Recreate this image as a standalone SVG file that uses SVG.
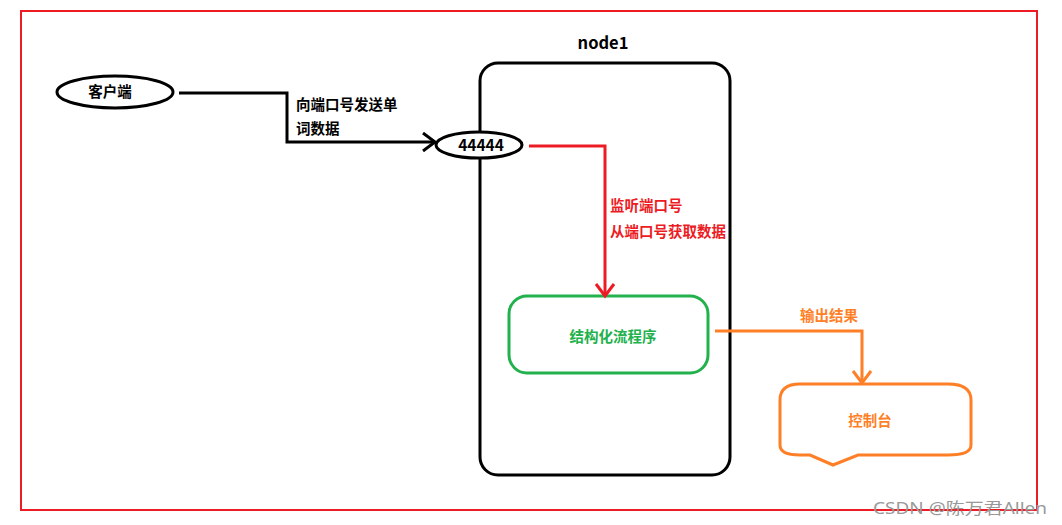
<svg xmlns="http://www.w3.org/2000/svg" width="1062" height="525" viewBox="0 0 1062 525">
<defs>
<style>
.t{font-family:"Microsoft YaHei","Noto Sans CJK SC","Noto Sans",sans-serif;font-weight:bold;font-size:14.5px}
.ln{fill:none;stroke-width:3}
</style>
<marker id="ab" markerUnits="userSpaceOnUse" markerWidth="20" markerHeight="20" refX="14" refY="10" orient="auto"><path d="M2,1 L14,10 L2,19" fill="none" stroke="#000" stroke-width="3"/></marker>
<marker id="ar" markerUnits="userSpaceOnUse" markerWidth="20" markerHeight="20" refX="14" refY="10" orient="auto"><path d="M2,1 L14,10 L2,19" fill="none" stroke="#ed1c24" stroke-width="3"/></marker>
<marker id="ao" markerUnits="userSpaceOnUse" markerWidth="20" markerHeight="20" refX="14" refY="10" orient="auto"><path d="M2,1 L14,10 L2,19" fill="none" stroke="#ff7f27" stroke-width="3"/></marker>
</defs>
<rect width="1062" height="525" fill="#fff"/>
<rect x="21" y="11" width="1016" height="499" fill="none" stroke="#ed1c24" stroke-width="2"/>
<g id="node1">
<rect x="480" y="63" width="250" height="412" rx="18" fill="none" stroke="#000" stroke-width="3"/>
<text class="t" x="603" y="49" text-anchor="middle" style="font-size:16.5px">node1</text>
</g>
<g id="client">
<ellipse cx="115" cy="92" rx="58" ry="16" fill="#fff" stroke="#000" stroke-width="3"/>
<text class="t" x="110" y="97" text-anchor="middle">客户端</text>
</g>
<g id="port">
<ellipse cx="479" cy="145" rx="43" ry="13" fill="#fff" stroke="#000" stroke-width="3"/>
<text class="t" x="481" y="151" text-anchor="middle" style="font-size:15.5px">44444</text>
</g>
<g id="program">
<rect x="509" y="296" width="199" height="77" rx="18" fill="#fff" stroke="#22b14c" stroke-width="3"/>
<text class="t" x="613" y="342" text-anchor="middle" fill="#22b14c">结构化流程序</text>
</g>
<g id="console">
<path d="M800,384 L948,384 Q971,384 971,400 L971,445 Q971,455 948,455 L858,455 L833,465 L810,455 L800,455 Q780,455 780,445 L780,400 Q780,384 800,384 Z" fill="#fff" stroke="#ff7f27" stroke-width="3"/>
<text class="t" x="870" y="426" text-anchor="middle" fill="#ff7f27">控制台</text>
</g>
<g id="connectors">
<path class="ln" d="M179,93 L287,93 L287,142 L435,142" stroke="#000" marker-end="url(#ab)"/>
<path class="ln" d="M529,146 L605,146 L605,296" stroke="#ed1c24" marker-end="url(#ar)"/>
<path class="ln" d="M715,331 L862,331 L862,383" stroke="#ff7f27" marker-end="url(#ao)"/>
<text class="t" x="296" y="110">向端口号发送单</text>
<text class="t" x="296" y="134">词数据</text>
<text class="t" x="610" y="211" fill="#ed1c24">监听端口号</text>
<text class="t" x="610" y="237" fill="#ed1c24">从端口号获取数据</text>
<text class="t" x="800" y="321" fill="#ff7f27">输出结果</text>
</g>
<text x="873" y="514" font-family="'Noto Sans','Noto Sans CJK SC',sans-serif" font-size="16" fill="#999" textLength="174" lengthAdjust="spacingAndGlyphs">CSDN @陈万君Allen</text>
</svg>
